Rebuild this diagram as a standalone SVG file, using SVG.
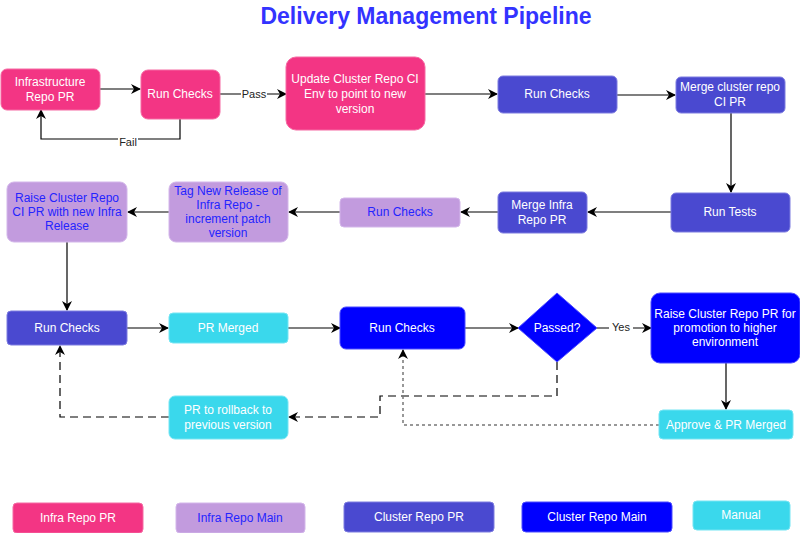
<svg xmlns="http://www.w3.org/2000/svg" width="800" height="533" viewBox="0 0 800 533">
<style>
text{font-family:"Liberation Sans",Arial,sans-serif;font-size:12px;text-anchor:middle;fill:#fff}
.pink{fill:#F33584;stroke:#F56AA3}
.cpr{fill:#4A49D0;stroke:#7D7CE0}
.purp{fill:#C29BDE;stroke:#D3B6EA}
.cyan{fill:#3AD8EC;stroke:#75E5F3}
.blue{fill:#0000FF;stroke:#4D4DFF}
.dk{fill:#2424FF}
.c{fill:none;stroke:#000;stroke-width:1.2}
.dash{stroke-dasharray:8,5}
.dot{stroke:#777;stroke-dasharray:3,3;stroke-width:1.5}
.lbl{fill:#222;font-size:11px}
.lb{fill:#fff}
</style>
<defs>
<marker id="a" viewBox="0 0 10 10" refX="9" refY="5" markerWidth="10" markerHeight="10" markerUnits="userSpaceOnUse" orient="auto">
<path d="M0,0 L10,5 L0,10 L3,5 Z" fill="#000"/>
</marker>
</defs>
<text x="426" y="24" style="font-size:23px;font-weight:bold;fill:#3333FF">Delivery Management Pipeline</text>

<g id="connectors">
<path class="c" d="M100,89 H140" marker-end="url(#a)"/>
<path class="c" d="M220,94 H286" marker-end="url(#a)"/>
<rect x="241" y="88" width="26" height="12" class="lb"/>
<text x="254" y="98" class="lbl">Pass</text>
<path class="c" d="M180,119 V139 H41 V110" marker-end="url(#a)"/>
<rect x="118" y="136" width="20" height="12" class="lb"/>
<text x="128" y="146" class="lbl">Fail</text>
<path class="c" d="M425,94 H497" marker-end="url(#a)"/>
<path class="c" d="M617,95 H675" marker-end="url(#a)"/>
<path class="c" d="M731,113 V192" marker-end="url(#a)"/>
<path class="c" d="M671,212 H588" marker-end="url(#a)"/>
<path class="c" d="M498,212 H461" marker-end="url(#a)"/>
<path class="c" d="M340,212 H289" marker-end="url(#a)"/>
<path class="c" d="M169,212 H128" marker-end="url(#a)"/>
<path class="c" d="M67,242 V310" marker-end="url(#a)"/>
<path class="c" d="M127,328 H168" marker-end="url(#a)"/>
<path class="c" d="M288,328 H340" marker-end="url(#a)"/>
<path class="c" d="M465,328 H518" marker-end="url(#a)"/>
<path class="c" d="M597,328 H651" marker-end="url(#a)"/>
<rect x="609" y="321" width="24" height="12" class="lb"/>
<text x="621" y="331" class="lbl">Yes</text>
<path class="c" d="M726,363 V409" marker-end="url(#a)"/>
<path class="c dash" d="M169,417 H60 V346" marker-end="url(#a)"/>
<path class="c dash" d="M557,362 V396 H380 V417 H289" marker-end="url(#a)"/>
<path class="c dot" d="M659,425 H403 V350" marker-end="url(#a)"/>
</g>

<g id="infra-pr"><rect class="pink" x="1" y="69" width="99" height="41" rx="6"/><text x="50" y="86">Infrastructure</text><text x="50" y="101">Repo PR</text></g>
<g id="run-checks-1"><rect class="pink" x="141" y="70" width="79" height="49" rx="7"/><text x="180" y="98">Run Checks</text></g>
<g id="update-cluster"><rect class="pink" x="286" y="57" width="139" height="73" rx="10"/><text x="355" y="83">Update Cluster Repo CI</text><text x="355" y="98">Env to point to new</text><text x="355" y="113">version</text></g>
<g id="run-checks-2"><rect class="cpr" x="498" y="76" width="119" height="37" rx="5"/><text x="557" y="98">Run Checks</text></g>
<g id="merge-cluster"><rect class="cpr" x="676" y="77" width="109" height="36" rx="5"/><text x="730" y="91">Merge cluster repo</text><text x="730" y="106">CI PR</text></g>
<g id="run-tests"><rect class="cpr" x="671" y="193" width="119" height="39" rx="5"/><text x="730" y="216">Run Tests</text></g>
<g id="merge-infra"><rect class="cpr" x="498" y="192" width="89" height="41" rx="5"/><text x="542" y="209">Merge Infra</text><text x="542" y="224">Repo PR</text></g>
<g id="run-checks-3"><rect class="purp" x="340" y="198" width="120" height="29" rx="4"/><text class="dk" x="400" y="216">Run Checks</text></g>
<g id="tag-release"><rect class="purp" x="169" y="182" width="119" height="60" rx="7"/><text class="dk" x="228" y="195">Tag New Release of</text><text class="dk" x="228" y="209">Infra Repo -</text><text class="dk" x="228" y="223">increment patch</text><text class="dk" x="228" y="237">version</text></g>
<g id="raise-cluster-ci"><rect class="purp" x="7" y="182" width="120" height="60" rx="7"/><text class="dk" x="67" y="202">Raise Cluster Repo</text><text class="dk" x="67" y="216">CI PR with new Infra</text><text class="dk" x="67" y="230">Release</text></g>
<g id="run-checks-4"><rect class="cpr" x="7" y="311" width="120" height="34" rx="4"/><text x="67" y="332">Run Checks</text></g>
<g id="pr-merged"><rect class="cyan" x="169" y="313" width="119" height="30" rx="4"/><text x="228" y="332">PR Merged</text></g>
<g id="run-checks-5"><rect class="blue" x="340" y="307" width="125" height="42" rx="6"/><text x="402" y="332">Run Checks</text></g>
<g id="passed"><path class="blue" d="M557,293 L597,328 L557,362 L518,328 Z"/><text x="557" y="332">Passed?</text></g>
<g id="raise-promotion"><rect class="blue" x="651" y="293" width="149" height="70" rx="9"/><text x="725" y="318">Raise Cluster Repo PR for</text><text x="725" y="332">promotion to higher</text><text x="725" y="346">environment</text></g>
<g id="approve-merged"><rect class="cyan" x="659" y="410" width="134" height="29" rx="4"/><text x="726" y="429">Approve &amp; PR Merged</text></g>
<g id="rollback"><rect class="cyan" x="169" y="396" width="119" height="43" rx="6"/><text x="228" y="414">PR to rollback to</text><text x="228" y="429">previous version</text></g>

<g id="legend">
<rect class="pink" x="13" y="503" width="130" height="30" rx="4"/><text x="78" y="522">Infra Repo PR</text>
<rect class="purp" x="176" y="503" width="129" height="30" rx="4"/><text class="dk" x="240" y="522">Infra Repo Main</text>
<rect class="cpr" x="344" y="502" width="150" height="30" rx="4"/><text x="419" y="521">Cluster Repo PR</text>
<rect class="blue" x="522" y="502" width="150" height="30" rx="4"/><text x="597" y="521">Cluster Repo Main</text>
<rect class="cyan" x="693" y="501" width="97" height="29" rx="4"/><text x="741" y="519">Manual</text>
</g>
</svg>
